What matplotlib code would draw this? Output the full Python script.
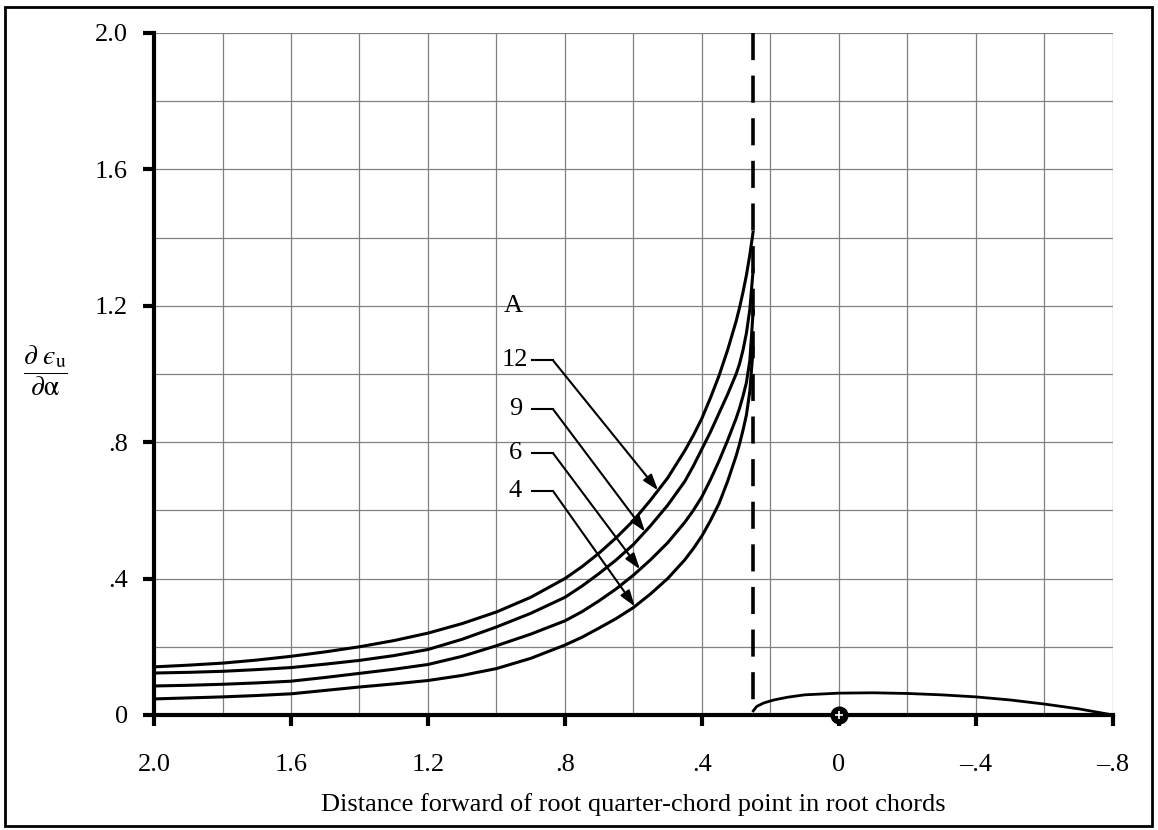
import numpy as np
import matplotlib
matplotlib.use("Agg")
import matplotlib.pyplot as plt
from matplotlib.patches import Rectangle

plt.rcParams["font.family"] = ["Liberation Serif", "DejaVu Serif"]
plt.rcParams["mathtext.fontset"] = "stix"

# downwash curves (x = distance forward, root chords)
x_curve = [2.0, 1.9, 1.8, 1.7, 1.6, 1.5, 1.4, 1.3, 1.2, 1.1, 1.0, 0.9, 0.8, 0.75, 0.7, 0.65,
           0.6, 0.55, 0.5, 0.45, 0.425, 0.4, 0.375, 0.35, 0.325, 0.3, 0.29, 0.28, 0.27, 0.26, 0.25]
y_a12 = [0.141, 0.146, 0.152, 0.161, 0.172, 0.185, 0.200, 0.218, 0.240, 0.268, 0.302, 0.345, 0.400, 0.435,
         0.475, 0.520, 0.570, 0.630, 0.695, 0.775, 0.820, 0.870, 0.930, 0.995, 1.070, 1.155, 1.195, 1.240,
         1.290, 1.350, 1.420]
y_a9 = [0.123, 0.125, 0.128, 0.133, 0.139, 0.149, 0.160, 0.174, 0.192, 0.222, 0.258, 0.298, 0.345, 0.378,
        0.415, 0.455, 0.500, 0.555, 0.615, 0.685, 0.730, 0.780, 0.830, 0.885, 0.940, 1.000, 1.030, 1.070,
        1.120, 1.190, 1.310]
y_a6 = [0.085, 0.087, 0.090, 0.094, 0.099, 0.110, 0.122, 0.134, 0.148, 0.172, 0.203, 0.237, 0.276, 0.303,
        0.335, 0.370, 0.410, 0.455, 0.505, 0.565, 0.600, 0.640, 0.690, 0.745, 0.805, 0.870, 0.900, 0.935,
        0.975, 1.040, 1.190]
y_a4 = [0.047, 0.050, 0.053, 0.057, 0.062, 0.072, 0.082, 0.091, 0.101, 0.116, 0.136, 0.166, 0.205, 0.228,
        0.255, 0.283, 0.315, 0.355, 0.400, 0.455, 0.488, 0.525, 0.570, 0.620, 0.685, 0.760, 0.795, 0.835,
        0.880, 0.950, 1.080]
aspect_labels = ["12", "9", "6", "4"]
label_y = [1.04, 0.897, 0.768, 0.657]
arrow_x = [0.528, 0.566, 0.581, 0.596]

# wing root section sketch
x_foil = [0.25, 0.24, 0.22, 0.19, 0.15, 0.1, 0.0, -0.1, -0.2, -0.3, -0.4, -0.5, -0.6, -0.7, -0.8]
y_foil = [0.012, 0.025, 0.035, 0.044, 0.052, 0.059, 0.064, 0.065, 0.063, 0.059, 0.053, 0.044, 0.032, 0.018, 0.0]

x_le = 0.25
x_ticks = [2.0, 1.6, 1.2, 0.8, 0.4, 0.0, -0.4, -0.8]
x_ticklabels = ["2.0", "1.6", "1.2", ".8", ".4", "0", "\u2013.4", "\u2013.8"]
y_ticks = [0.0, 0.4, 0.8, 1.2, 1.6, 2.0]
y_ticklabels = ["0", ".4", ".8", "1.2", "1.6", "2.0"]

fig = plt.figure(figsize=(11.58, 8.30), dpi=100)
ax = fig.add_axes([0.133, 0.1386, 0.828, 0.8217])

ax.set_xlim(2.0, -0.8)
ax.set_ylim(0, 2.0)

ax.set_xticks(x_ticks, x_ticklabels)
ax.set_yticks(y_ticks, y_ticklabels)
ax.set_xticks(np.arange(-0.8, 2.01, 0.2), minor=True)
ax.set_yticks(np.arange(0, 2.01, 0.2), minor=True)
ax.tick_params(which="major", direction="out", length=8, width=3, labelsize=19, color="black")
ax.tick_params(axis="x", which="major", pad=20)
ax.tick_params(axis="y", which="major", pad=11)
ax.tick_params(which="minor", length=0)
ax.grid(True, which="both", color="#808080", linewidth=0.9)
ax.set_axisbelow(True)

for side in ("top", "right"):
    ax.spines[side].set_visible(False)
for side in ("left", "bottom"):
    ax.spines[side].set_linewidth(3)

for ys in (y_a12, y_a9, y_a6, y_a4):
    ax.plot(x_curve, ys, color="black", linewidth=2.2, solid_capstyle="butt")

ax.plot([x_le, x_le], [2.0, 0.0], color="black", linewidth=2.6, linestyle=(0, (7.5, 4.3)))
ax.plot(x_foil, y_foil, color="black", linewidth=2.0)
ax.plot([0.0], [0.0], marker="o", markersize=12, color="black", clip_on=False, zorder=5)
ax.plot([0.0], [0.0], marker="+", markersize=6, color="white", markeredgewidth=1.2, clip_on=False, zorder=6)

# aspect ratio callouts
ax.text(0.95, 1.2, "A", fontsize=19, ha="center", va="center")
xr = np.array(x_curve)[::-1]
for lab, ly, tx, ys in zip(aspect_labels, label_y, arrow_x, (y_a12, y_a9, y_a6, y_a4)):
    ax.text(0.945, ly, lab, fontsize=19, ha="center", va="center")
    ax.plot([0.896, 0.835], [ly, ly], color="black", linewidth=1.5)
    tip_y = np.interp(tx, xr, np.array(ys)[::-1])
    ax.annotate("", xy=(tx, tip_y), xytext=(0.835, ly),
                arrowprops=dict(arrowstyle="-|>,head_length=0.6,head_width=0.2", color="black", lw=1.5,
                                mutation_scale=16, shrinkA=0, shrinkB=0))

ax.set_xlabel("Distance forward of root quarter-chord point in root chords", fontsize=19, labelpad=12)
fig.text(0.039, 0.553, "$\\dfrac{\\partial\\ \u03f5_{\\mathrm{u}}}{\\partial\\mathrm{\\alpha}}$",
         fontsize=20, ha="center", va="center")

fig.patches.append(Rectangle((0.0043, 0.0048), 0.9905, 0.9868, transform=fig.transFigure,
                             fill=False, edgecolor="black", linewidth=2))

fig.savefig("out.png", dpi=100)
